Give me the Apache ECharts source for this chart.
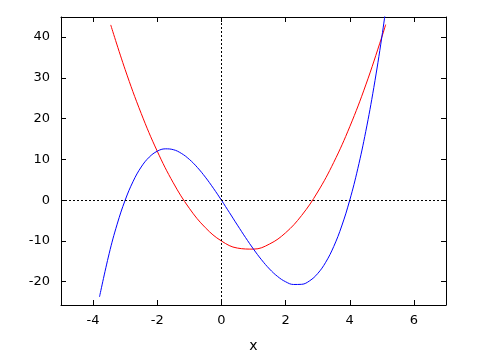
<!DOCTYPE html>
<html><head><meta charset="utf-8">
<script src="https://cdn.jsdelivr.net/npm/echarts@6/dist/echarts.min.js"></script>
<style>html,body{margin:0;padding:0;background:#fff}#c{width:480px;height:360px}</style>
</head><body><div id="c"></div>
<script>
// Red curve
const redX = [-3.45, -3, -2.5, -2, -1.5, -1, -0.5, 0, 0.5, 1, 1.5, 2, 2.5, 3, 3.5, 4, 4.5, 5, 5.12];
const redY = [42.96, 32, 21.25, 12, 4.25, -2, -6.75, -10, -11.75, -12, -10.75, -8, -3.75, 2, 9.25, 18, 28.25, 40, 43.04];
// Blue curve
const blueX = [-3.8, -3.5, -3.25, -3, -2.75, -2.5, -2.25, -2, -1.75, -1.5, -1.25, -1, -0.75, -0.5, -0.25, 0,
  0.25, 0.5, 0.75, 1, 1.25, 1.5, 1.75, 2, 2.25, 2.5, 2.75, 3, 3.25, 3.5, 3.75, 4, 4.25, 4.5, 4.75, 5, 5.25];
const blueY = [-23.71, -13.13, -5.89, 0, 4.64, 8.13, 10.55, 12, 12.58, 12.38, 11.48, 10, 8.02, 5.63, 2.92, 0,
  -3.05, -6.13, -9.14, -12, -14.61, -16.88, -18.7, -20, -20.67, -20.63, -19.77, -18, -15.23, -11.38, -6.33, 0, 7.7, 16.88, 27.61, 40, 54.14];
const xTicks = [-4, -2, 0, 2, 4, 6];
const yTicks = [-20, -10, 0, 10, 20, 30, 40];
const xMin = -5, xMax = 7, yMin = -25.7, yMax = 44.9;

const font = 'DejaVu Sans';
const pair = (xs, ys) => xs.map((x, i) => [x, ys[i]]);
const lineAx = { show: true, onZero: false, lineStyle: { color: '#000', width: 1 } };

function xAx(pos, labels) {
  return {
    type: 'value', position: pos, min: xMin, max: xMax,
    name: labels ? 'x' : '', nameLocation: 'middle', nameGap: 34,
    nameTextStyle: { color: '#000', fontFamily: font, fontSize: 14 },
    axisLine: lineAx,
    axisTick: { show: true, inside: true, length: 5, customValues: xTicks, lineStyle: { color: '#000' } },
    axisLabel: { show: labels, customValues: xTicks, color: '#000', fontFamily: font, fontSize: 13, margin: 9 },
    splitLine: { show: false }
  };
}
function yAx(pos, labels) {
  return {
    type: 'value', position: pos, min: yMin, max: yMax,
    axisLine: lineAx,
    axisTick: { show: true, inside: true, length: 5, customValues: yTicks, lineStyle: { color: '#000' } },
    axisLabel: { show: labels, customValues: yTicks, color: '#000', fontFamily: font, fontSize: 13, margin: 11 },
    splitLine: { show: false }
  };
}

const chart = echarts.init(document.getElementById('c'), null, { renderer: 'canvas' });
chart.setOption({
  animation: false,
  backgroundColor: '#fff',
  grid: { left: 61, right: 34, top: 17, bottom: 55, containLabel: false },
  xAxis: [xAx('bottom', true), xAx('top', false)],
  yAxis: [yAx('left', true), yAx('right', false)],
  series: [
    {
      type: 'line', data: [], z: 1, silent: true,
      markLine: {
        silent: true, symbol: 'none', animation: false,
        label: { show: false },
        lineStyle: { color: '#000', width: 1, type: [2, 2] },
        emphasis: { disabled: true },
        data: [{ xAxis: 0 }, { yAxis: 0 }]
      }
    },
    {
      type: 'line', data: pair(redX, redY), showSymbol: false, smooth: 0.4,
      lineStyle: { color: '#ff0000', width: 1 }, itemStyle: { color: '#ff0000' }, z: 2, clip: true
    },
    {
      type: 'line', data: pair(blueX, blueY), showSymbol: false, smooth: 0.4,
      lineStyle: { color: '#0000ff', width: 1 }, itemStyle: { color: '#0000ff' }, z: 3, clip: true
    }
  ]
});
</script>
</body></html>
